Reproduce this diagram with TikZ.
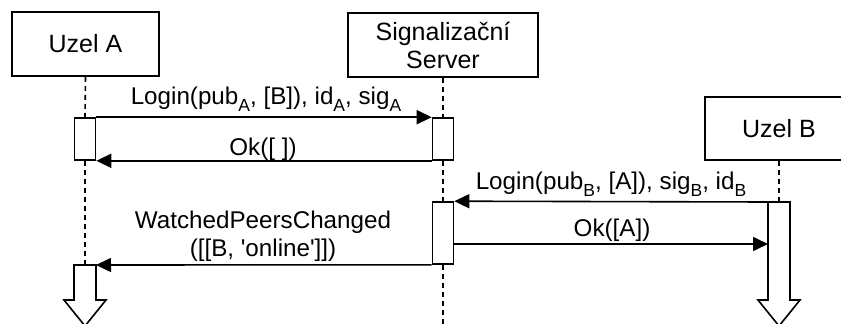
\documentclass[tikz,border=0pt]{standalone}
\usepackage{fontspec}
\setmainfont{Liberation Sans}
\usetikzlibrary{arrows.meta}
\newcommand{\lo}[1]{\raisebox{-0.3em}{\fontsize{17.5}{17.5}\selectfont #1}}
\begin{document}
\begin{tikzpicture}[x=1pt,y=-1pt,line width=1.6pt,
  box/.style={draw,fill=white,inner sep=0pt,font=\fontsize{25}{28}\selectfont,align=center},
  act/.style={draw,fill=white,minimum width=21pt,inner sep=0pt},
  life/.style={dash pattern=on 5pt off 4pt,line width=1.6pt},
  msg/.style={-{Triangle[length=15pt,width=14pt]}},
  lbl/.style={font=\fontsize{24.2}{28}\selectfont,inner sep=0pt,anchor=base,align=center},
  blockarrow/.style={draw,fill=white,line join=miter}
]
\useasboundingbox (0,0) rectangle (841,324);
\clip (0,0) rectangle (841,324);
% participants
\node[box,minimum width=147pt,minimum height=64pt] (A) at (85.5,44) {Uzel A};
\node[box,minimum width=190pt,minimum height=64pt] (S) at (443,45) {Signalizační\\Server};
\node[box,minimum width=148pt,minimum height=63pt] (B) at (779,128.5) {Uzel B};
% activations
\node[act,minimum height=42pt] (a1) at (85,139) {};
\node[act,minimum height=42pt] (s1) at (443,139) {};
\node[act,minimum height=62pt] (s2) at (443,233) {};
% block arrows (continuing activations)
\coordinate (bTL) at (768,202);
\coordinate (bTR) at (790,202);
\coordinate (bOk) at (768,244);
\coordinate (aTL) at (74,265);
\coordinate (aTR) at (96,265);
\draw[blockarrow] (bTL) -- (bTR) -- (790,300) -- (800,300) -- (779,326) -- (758,300) -- (768,300) -- cycle;
\draw[blockarrow] (aTL) -- (aTR) -- (96,300) -- (106,300) -- (85,326) -- (64,300) -- (74,300) -- cycle;
% lifelines
\draw[life] (A.south) -- (a1.north);
\draw[life] (a1.south) -- (a1.south |- aTL);
\draw[life] (S.south) -- (s1.north);
\draw[life] (s1.south) -- (s2.north);
\draw[life] (s2.south) -- (443,324);
\draw[life] (B.south) -- (779,202);
% messages
\draw[msg] (a1.north east) -- (s1.north west);
\draw[msg] (s1.south west) -- (a1.south east);
\draw[msg] (bTL) -- (s2.north east);
\draw[msg] (s2.east |- bOk) -- (bOk);
\draw[msg] (s2.south west) -- (aTR);
% labels
\node[lbl] (l1) at (266,104) {Login(pub\lo{A}, [B]), id\lo{A}, sig\lo{A}};
\node[lbl] (l2) at (263,155) {Ok([ ])};
\node[lbl] (l3) at (611,189) {Login(pub\lo{B}, [A]), sig\lo{B}, id\lo{B}};
\node[lbl] (l4) at (612,236) {Ok([A])};
\node[lbl] (l5) at (263,256) {WatchedPeersChanged\\([[B, \textquotesingle online\textquotesingle]])};
\end{tikzpicture}
\end{document}
